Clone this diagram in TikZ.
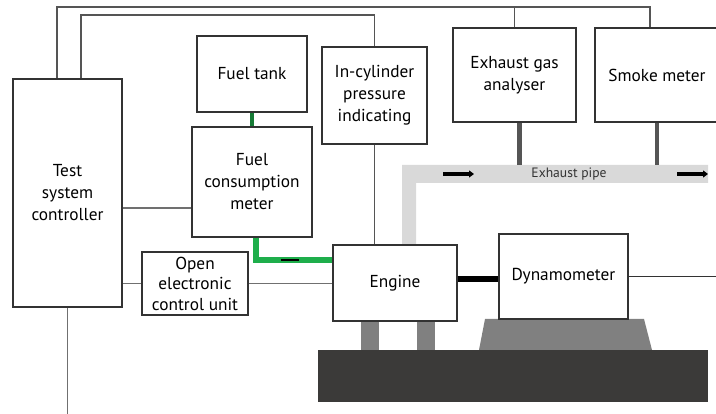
\documentclass[tikz,border=0pt]{standalone}
\usepackage{fontspec}
\setmainfont{PT Sans}
\usetikzlibrary{arrows.meta}
\definecolor{boxline}{HTML}{333333}
\definecolor{sigline}{HTML}{707070}
\definecolor{fuelgreen}{HTML}{1EAE4B}
\definecolor{pipegray}{HTML}{D9D9D9}
\definecolor{probe}{HTML}{555555}
\definecolor{standgray}{HTML}{808080}
\definecolor{basegray}{HTML}{3B3A39}
\begin{document}
\begin{tikzpicture}[x=1pt, y=-1pt, >={Triangle[length=5pt,width=7pt]},
  box/.style={draw=boxline, line width=1.2pt, fill=white, align=center,
    inner sep=0pt, font=\fontsize{17.3}{22}\selectfont},
  sig/.style={draw=sigline, line width=1.4pt},
  fuel/.style={draw=fuelgreen, line width=6.5pt},
  probeline/.style={draw=probe, line width=5pt}]
  \useasboundingbox (0,0) rectangle (716,414);
  % exhaust pipe
  \fill[pipegray] (402,245) -- (402,165) -- (708,165) -- (708,183) -- (416,183) -- (416,245) -- cycle;
  \draw[line width=4pt, ->] (443,174) -- (474,174);
  \draw[line width=4pt, ->] (677,174) -- (708,174);
  \node[font=\fontsize{13.6}{15}\selectfont, text=boxline] (pipelbl) at (569,174) {Exhaust pipe};
  % test bed
  \fill[basegray] (318,350) rectangle (708,402);
  \fill[standgray] (479,350) -- (485,319) -- (644,319) -- (652,350) -- cycle;
  \fill[standgray] (361,321) rectangle (379,350);
  \fill[standgray] (417,321) rectangle (435,350);
  % boxes
  \node[box, minimum width=109pt, minimum height=228pt] (ctrl) at (67.5,193) {Test\\system\\controller};
  \node[box, minimum width=110pt, minimum height=76pt] (tank) at (252,74) {Fuel tank};
  \node[box, minimum width=120pt, minimum height=110pt] (fuelm) at (252,182) {Fuel\\consumption\\meter};
  \node[box, minimum width=105pt, minimum height=97pt] (cyl) at (374.5,95.5) {In-cylinder\\pressure\\indicating};
  \node[box, minimum width=123pt, minimum height=94pt] (gas) at (514.5,75) {Exhaust gas\\analyser};
  \node[box, minimum width=124pt, minimum height=94pt] (smoke) at (657,75) {Smoke meter};
  \node[box, minimum width=106pt, minimum height=63pt, font=\fontsize{17.3}{20.5}\selectfont] (ecu) at (195,283.5) {Open\\electronic\\control unit};
  \node[box, minimum width=124pt, minimum height=76pt] (eng) at (395,283) {Engine};
  \node[box, minimum width=129pt, minimum height=85pt] (dyn) at (563.5,276.5) {Dynamometer};
  % signal lines
  \coordinate (topa) at (57,7);
  \coordinate (topb) at (650,7);
  \coordinate (topc) at (81,15);
  \coordinate (meterrow) at (0,208);
  \coordinate (bottom) at (0,414);
  \coordinate (rightedge) at (716,0);
  \coordinate (shaftrow) at (0,279);
  \draw[sig, draw=probe] (topa |- ctrl.north) -- (topa) -- (topb) -- (topb |- smoke.north);
  \draw[sig, draw=probe] (gas.north |- topa) -- (gas.north);
  \draw[sig, draw=probe] (topc |- ctrl.north) -- (topc) -| (cyl.north);
  \draw[sig, draw=probe] (cyl.south) -- (cyl.south |- eng.north);
  \draw[sig] (ctrl.east |- meterrow) -- (fuelm.west |- meterrow);
  \draw[sig] (ctrl.east |- ecu.west) -- (ecu.west);
  \draw[sig] (ecu.east) -- (ecu.east -| eng.west);
  \draw[sig] (ctrl.south) -- (ctrl.south |- bottom);
  \draw[sig, draw=boxline] (dyn.east) -- (dyn.east -| rightedge);
  % fuel line
  \coordinate (fuelbend) at (256,260);
  \draw[draw=fuelgreen!70!black, line width=4pt] (tank.south) -- (fuelm.north);
  \draw[fuel] (fuelm.south -| fuelbend) -- (fuelbend) -- (eng.west |- fuelbend);
  \draw[line width=2pt] (281,260) -- (299,260);
  % probes and shaft
  \coordinate (gasprobe) at (519,165);
  \coordinate (smokeprobe) at (657,165);
  \draw[probeline] (gas.south -| gasprobe) -- (gasprobe);
  \draw[probeline, line width=4pt] (smoke.south -| smokeprobe) -- (smokeprobe);
  \draw[line width=6pt] (eng.east |- shaftrow) -- (dyn.west |- shaftrow);
\end{tikzpicture}
\end{document}
